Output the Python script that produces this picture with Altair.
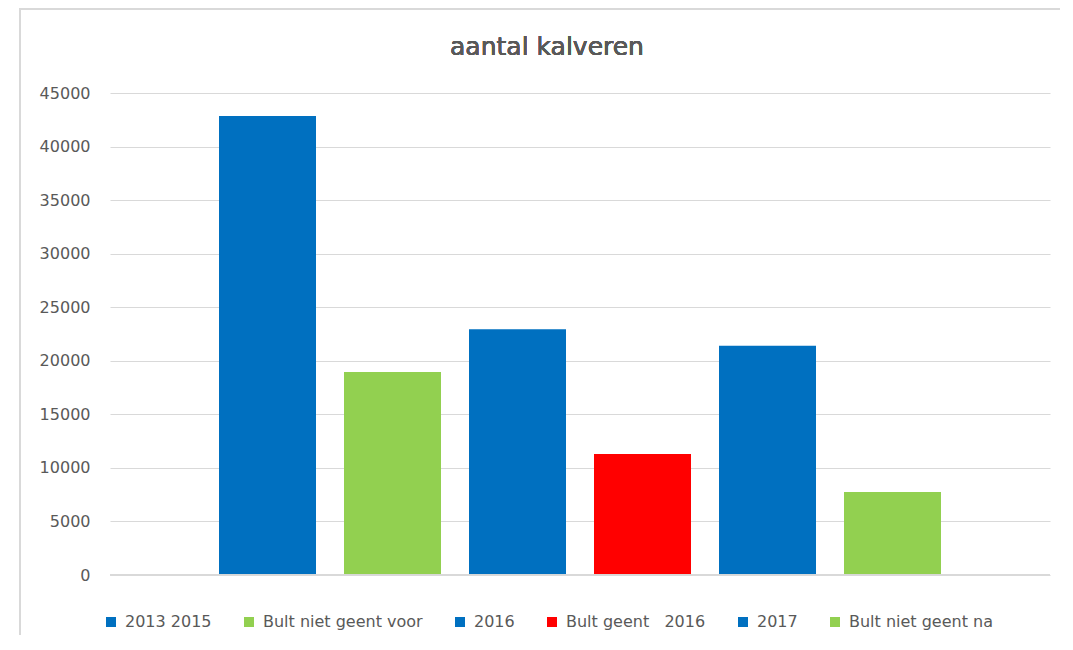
import altair as alt
import pandas as pd

series = ["2013 2015", "Bult niet geent voor", "2016", "Bult geent \u00a0\u00a02016", "2017", "Bult niet geent na"]
values = [42850, 18950, 22950, 11300, 21400, 7750]
colors = ["#0070C0", "#92D050", "#0070C0", "#FF0000", "#0070C0", "#92D050"]
y_ticks = [0, 5000, 10000, 15000, 20000, 25000, 30000, 35000, 40000, 45000]
title_text = "aantal kalveren"

df = pd.DataFrame({"serie": series, "aantal": values})

FONT = "DejaVu Sans"
TXT = "#595959"

bars = alt.Chart(df).mark_bar().encode(
    x=alt.X("serie:N", sort=series, axis=None,
            scale=alt.Scale(paddingInner=0.224, paddingOuter=0.872)),
    y=alt.Y("aantal:Q", title=None,
            scale=alt.Scale(domain=[0, 45000], nice=False),
            axis=alt.Axis(values=y_ticks, format="d", ticks=False, domain=False,
                          labelPadding=20, labelFontSize=16, labelFont=FONT,
                          labelColor=TXT, gridColor="#d9d9d9", gridWidth=1)),
    color=alt.Color("serie:N", sort=series,
                    scale=alt.Scale(domain=series, range=colors),
                    legend=alt.Legend(title=None, orient="none", direction="horizontal",
                                      legendX=-7, legendY=521, symbolType="square",
                                      symbolSize=100, symbolStrokeWidth=0,
                                      labelFont=FONT, labelFontSize=16, labelColor=TXT,
                                      labelOffset=6, columnPadding=29, padding=0)),
)

base_line = alt.Chart(df).mark_rule(color="#d9d9d9", strokeWidth=1).encode(
    x=alt.value(0), x2=alt.value(940), y=alt.value(482)
)

frame_left = alt.Chart(df).mark_rule(color="#d9d9d9", strokeWidth=2).encode(
    x=alt.value(-90), y=alt.value(-85), y2=alt.value(575)
)
frame_top = alt.Chart(df).mark_rule(color="#d9d9d9", strokeWidth=2).encode(
    x=alt.value(-90), x2=alt.value(960), y=alt.value(-84)
)

title = alt.Chart(df).mark_text(
    font=FONT, fontSize=25, color=TXT, align="center", baseline="alphabetic"
).encode(x=alt.value(437), y=alt.value(-38), text=alt.value(title_text))

chart = alt.layer(bars, base_line, frame_left, frame_top, title).properties(
    width=940,
    height=482,
    autosize=alt.AutoSizeParams(type="none"),
    padding={"left": 102, "top": 85, "right": 10, "bottom": 60},
).configure(background="white").configure_view(strokeWidth=0, stroke="transparent")

chart.save("out.html", embed_options={"renderer": "svg", "actions": False})
